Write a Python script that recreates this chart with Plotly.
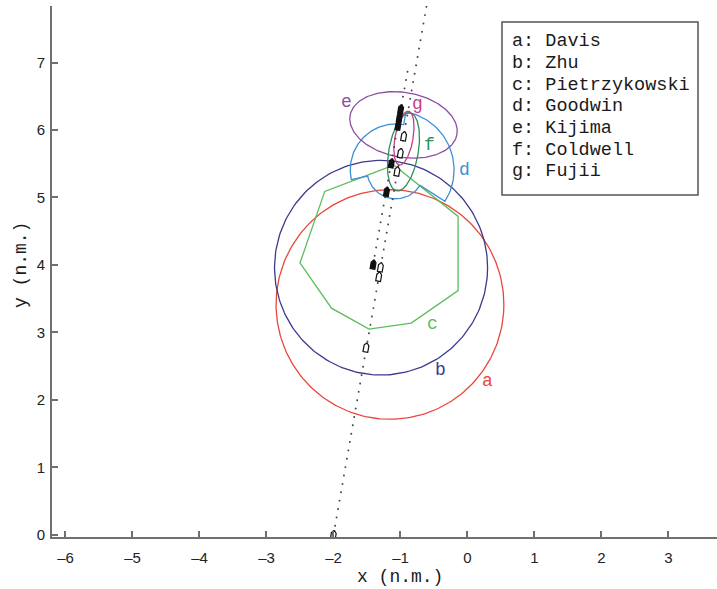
import numpy as np
import plotly.graph_objects as go

# ---------------- data ----------------
heading_deg = 10.0  # course of both ships (deg from north)

# target ship track (dotted) and own ship track (dotted)
track_target_x = [-2.0, -0.60]
track_target_y = [0.0, 7.90]
track_own_x = [-1.41, -0.88]
track_own_y = [4.00, 6.95]

# ship positions
own_ship_x = [-1.406, -1.206, -1.135, -1.035, -1.015, -0.995]
own_ship_y = [4.01, 5.09, 5.51, 6.07, 6.19, 6.31]
target_ship_x = [-2.0, -1.512, -1.322, -1.297, -1.050, -1.000, -0.950]
target_ship_y = [0.0, 2.78, 3.83, 3.97, 5.39, 5.66, 5.91]

# a: Davis (circle)
davis_center = (-1.157, 3.415)
davis_radius = 1.70
# b: Zhu (circle)
zhu_center = (-1.29, 3.96)
zhu_radius = 1.59
# c: Pietrzykowski (polygon)
pietr_x = [-1.10, -0.14, -0.14, -0.84, -1.47, -2.03, -2.50, -2.13, -1.10]
pietr_y = [5.48, 4.72, 3.62, 3.14, 3.05, 3.36, 4.03, 5.09, 5.48]
# d: Goodwin (three sectors)
goodwin_center = (-1.07, 5.41)
goodwin_radii = [0.87, 0.43, 0.68]          # starboard, stern, port
goodwin_sectors = [(0, 112.5), (112.5, 247.5), (247.5, 360)]
# e: Kijima (ellipse)
kijima_center = (-0.955, 6.075)
kijima_axes = (0.81, 0.48)                   # half width, half height
# f: Coldwell (ellipse)
coldwell_center = (-0.955, 5.675)
coldwell_axes = (0.22, 0.585)
# g: Fujii (ellipse)
fujii_center = (-0.948, 5.88)
fujii_axes = (0.135, 0.404)

legend_lines = ["a: Davis", "b: Zhu", "c: Pietrzykowski", "d: Goodwin",
                "e: Kijima", "f: Coldwell", "g: Fujii"]
label_text = ["a", "b", "c", "d", "e", "f", "g"]
label_x = [0.30, -0.41, -0.525, -0.04, -1.80, -0.56, -0.75]
label_y = [2.28, 2.45, 3.12, 5.41, 6.42, 5.78, 6.39]

colors = {"a": "#e8483c", "b": "#3c3a8c", "c": "#5dbd5d", "d": "#3f8fd4",
          "e": "#8a4fa3", "f": "#2f8f5c", "g": "#c63c8a"}

x_ticks = [-6, -5, -4, -3, -2, -1, 0, 1, 2, 3]
y_ticks = [0, 1, 2, 3, 4, 5, 6, 7]
x_range = [-6.201, 3.724]
y_range = [-0.03, 7.837]

# ---------------- helpers ----------------
th = np.deg2rad(heading_deg)


def circle(c, r, n=240):
    t = np.linspace(0, 2 * np.pi, n)
    return c[0] + r * np.cos(t), c[1] + r * np.sin(t)


def ellipse(c, ax, rot_deg, n=240):
    t = np.linspace(0, 2 * np.pi, n)
    u = ax[0] * np.cos(t)
    v = ax[1] * np.sin(t)
    r = np.deg2rad(rot_deg)
    x = c[0] + u * np.cos(r) + v * np.sin(r)
    y = c[1] - u * np.sin(r) + v * np.cos(r)
    return x, y


def goodwin_path():
    xs, ys = [], []
    for (a0, a1), r in zip(goodwin_sectors, goodwin_radii):
        b = np.deg2rad(np.linspace(a0, a1, 60) + heading_deg)
        xs.extend(goodwin_center[0] + r * np.sin(b))
        ys.extend(goodwin_center[1] + r * np.cos(b))
    xs.append(xs[0]); ys.append(ys[0])
    return xs, ys


def ship(x, y, L=0.14, W=0.072):
    u = np.array([L / 2, L / 5, -L / 2, -L / 2, L / 5, L / 2])
    v = np.array([0, W / 2, W / 2, -W / 2, -W / 2, 0])
    px = x + u * np.sin(th) + v * np.cos(th)
    py = y + u * np.cos(th) - v * np.sin(th)
    return px, py


fig = go.Figure()

x, y = circle(davis_center, davis_radius)
fig.add_trace(go.Scatter(x=x, y=y, mode="lines", line=dict(color=colors["a"], width=1.3)))
x, y = circle(zhu_center, zhu_radius)
fig.add_trace(go.Scatter(x=x, y=y, mode="lines", line=dict(color=colors["b"], width=1.3)))
fig.add_trace(go.Scatter(x=pietr_x, y=pietr_y, mode="lines", line=dict(color=colors["c"], width=1.3)))
x, y = goodwin_path()
fig.add_trace(go.Scatter(x=x, y=y, mode="lines", line=dict(color=colors["d"], width=1.3)))
x, y = ellipse(kijima_center, kijima_axes, heading_deg)
fig.add_trace(go.Scatter(x=x, y=y, mode="lines", line=dict(color=colors["e"], width=1.3)))
x, y = ellipse(coldwell_center, coldwell_axes, heading_deg)
fig.add_trace(go.Scatter(x=x, y=y, mode="lines", line=dict(color=colors["f"], width=1.3)))
x, y = ellipse(fujii_center, fujii_axes, heading_deg)
fig.add_trace(go.Scatter(x=x, y=y, mode="lines", line=dict(color=colors["g"], width=1.3)))

fig.add_trace(go.Scatter(x=track_target_x, y=track_target_y, mode="lines",
                         line=dict(color="#444444", width=1.7, dash="1.7px,6.8px")))
fig.add_trace(go.Scatter(x=track_own_x, y=track_own_y, mode="lines",
                         line=dict(color="#444444", width=1.7, dash="1.7px,6.8px")))

for sx, sy in zip(target_ship_x, target_ship_y):
    px, py = ship(sx, sy)
    fig.add_trace(go.Scatter(x=px, y=py, mode="lines", fill="toself", fillcolor="white",
                             line=dict(color="#111111", width=1.2)))
for sx, sy in zip(own_ship_x, own_ship_y):
    px, py = ship(sx, sy)
    fig.add_trace(go.Scatter(x=px, y=py, mode="lines", fill="toself", fillcolor="#111111",
                             line=dict(color="#111111", width=1.2)))

for t, lx, ly in zip(label_text, label_x, label_y):
    fig.add_annotation(x=lx, y=ly, text=t, showarrow=False, xref="x", yref="y",
                       font=dict(family="Liberation Mono", size=18, color=colors[t]))

plot_l, plot_r, plot_t, plot_b = 52, 717, 6, 537
def px2paper_x(p):
    return (p - plot_l) / (plot_r - plot_l)
def px2paper_y(p):
    return (plot_b - p) / (plot_b - plot_t)

fig.add_shape(type="rect", xref="paper", yref="paper",
              x0=px2paper_x(502), x1=px2paper_x(698), y0=px2paper_y(195), y1=px2paper_y(22),
              line=dict(color="#555555", width=1.5), fillcolor="white", layer="above")
for i, s in enumerate(legend_lines):
    fig.add_annotation(x=px2paper_x(510), y=px2paper_y(41.7 + 21.7 * i), xref="paper", yref="paper",
                       text=s, showarrow=False, xanchor="left", yanchor="middle",
                       font=dict(family="Liberation Mono", size=18.5, color="#1a1a1a"))

fig.add_annotation(x=px2paper_x(400), y=px2paper_y(577), xref="paper", yref="paper",
                   text="x (n.m.)", showarrow=False, xanchor="center", yanchor="middle",
                   font=dict(family="Liberation Mono", size=18, color="#1a1a1a"))
fig.add_annotation(x=px2paper_x(21), y=px2paper_y(265), xref="paper", yref="paper",
                   text="y (n.m.)", showarrow=False, textangle=-90, xanchor="center", yanchor="middle",
                   font=dict(family="Liberation Mono", size=18, color="#1a1a1a"))

axis_common = dict(showgrid=False, zeroline=False, showline=True, linecolor="#707070", linewidth=2,
                   ticks="inside", ticklen=6, tickwidth=1.5, tickcolor="#707070", automargin=False,
                   tickfont=dict(family="Liberation Sans", size=15, color="#222222"), mirror=False)
fig.update_xaxes(range=x_range, tickvals=x_ticks, ticktext=[("–" + str(-v)) if v < 0 else str(v) for v in x_ticks],
                 ticklabelstandoff=6, **axis_common)
fig.update_yaxes(range=y_range, tickvals=y_ticks, ticktext=[str(v) for v in y_ticks],
                 ticklabelstandoff=2, **axis_common)

fig.update_layout(width=717, height=589, showlegend=False,
                  margin=dict(l=plot_l, r=717 - plot_r, t=plot_t, b=589 - plot_b, autoexpand=False),
                  paper_bgcolor="white", plot_bgcolor="white")

fig.write_html("out.html", config={"displayModeBar": False},
               post_script="document.body.style.margin='0px';document.body.style.overflow='hidden';")
